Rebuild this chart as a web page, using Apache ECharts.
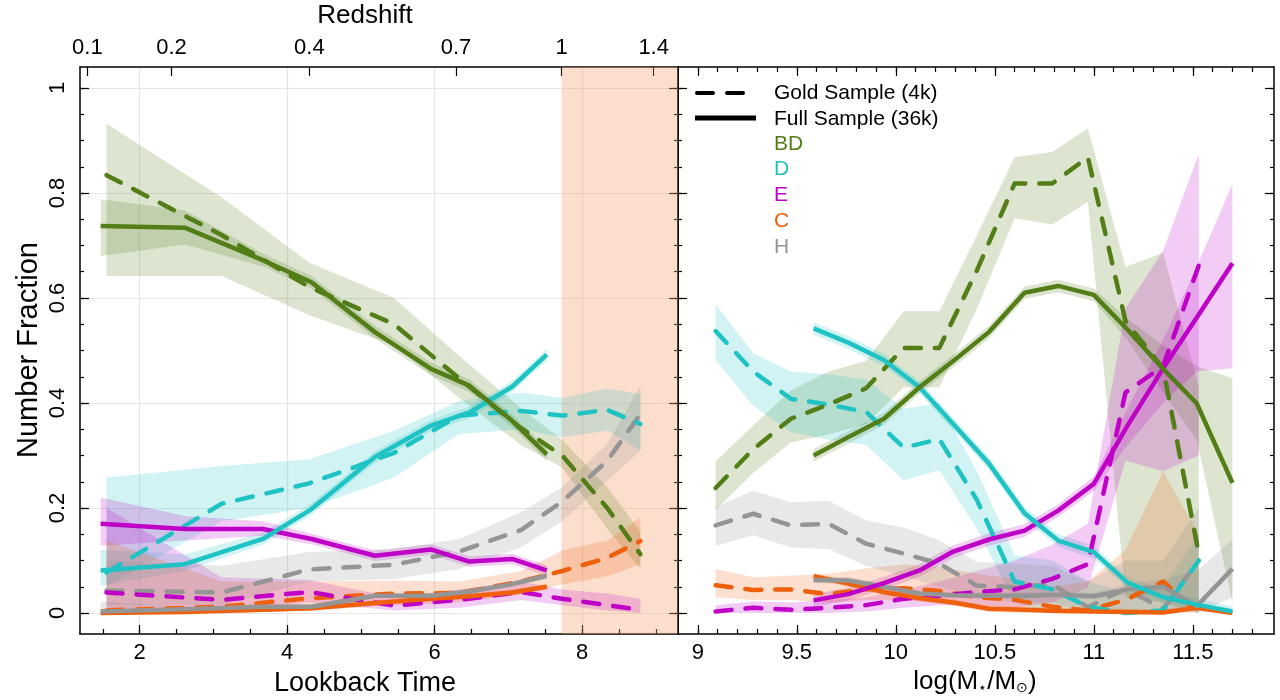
<!DOCTYPE html>
<html><head><meta charset="utf-8">
<script src="https://cdn.jsdelivr.net/npm/echarts@6/dist/echarts.min.js"></script>
<style>html,body{margin:0;padding:0;background:#fff}#c{width:1280px;height:700px}</style>
</head><body><div id="c"></div>
<script>
// ================= DATA =================
// Left panel: x = lookback time (Gyr)
const lbFull = [1.47, 2.61, 3.67, 4.33, 5.19, 5.95, 6.47, 7.05, 7.52];
const lbGold = [1.55, 3.11, 4.30, 5.45, 6.33, 7.17, 7.73, 8.34, 8.79];

const lfBD   = [0.737, 0.734, 0.672, 0.630, 0.535, 0.465, 0.433, 0.366, 0.302];
const lfBDlo = [0.680, 0.702, 0.660, 0.618, 0.523, 0.453, 0.421, 0.354, 0.290];
const lfBDhi = [0.788, 0.767, 0.685, 0.642, 0.547, 0.477, 0.445, 0.378, 0.314];
const lfD    = [0.081, 0.093, 0.141, 0.198, 0.297, 0.357, 0.382, 0.431, 0.492];
const lfDlo  = [0.052, 0.080, 0.130, 0.187, 0.286, 0.346, 0.371, 0.420, 0.481];
const lfDhi  = [0.120, 0.112, 0.153, 0.209, 0.308, 0.368, 0.393, 0.442, 0.503];
const lfE    = [0.170, 0.160, 0.160, 0.141, 0.109, 0.121, 0.098, 0.103, 0.081];
const lfElo  = [0.128, 0.138, 0.147, 0.131, 0.099, 0.111, 0.088, 0.093, 0.071];
const lfEhi  = [0.220, 0.185, 0.175, 0.151, 0.119, 0.131, 0.108, 0.113, 0.091];
const lfC    = [0.000, 0.002, 0.006, 0.009, 0.019, 0.027, 0.032, 0.039, 0.050];
const lfClo  = [0.000, 0.000, 0.002, 0.005, 0.014, 0.022, 0.027, 0.034, 0.044];
const lfChi  = [0.008, 0.008, 0.011, 0.014, 0.024, 0.032, 0.037, 0.045, 0.056];
const lfH    = [0.003, 0.007, 0.012, 0.012, 0.033, 0.033, 0.041, 0.055, 0.071];
const lfHlo  = [0.000, 0.003, 0.008, 0.008, 0.028, 0.028, 0.036, 0.050, 0.065];
const lfHhi  = [0.022, 0.012, 0.017, 0.017, 0.038, 0.038, 0.046, 0.060, 0.077];

const lgBD   = [0.834, 0.720, 0.621, 0.550, 0.447, 0.352, 0.300, 0.200, 0.112];
const lgBDlo = [0.642, 0.642, 0.567, 0.510, 0.410, 0.320, 0.277, 0.160, 0.084];
const lgBDhi = [0.932, 0.792, 0.667, 0.600, 0.490, 0.390, 0.330, 0.240, 0.155];
const lgD    = [0.077, 0.208, 0.247, 0.305, 0.376, 0.385, 0.376, 0.387, 0.360];
const lgDlo  = [0.050, 0.175, 0.200, 0.258, 0.341, 0.350, 0.335, 0.347, 0.310];
const lgDhi  = [0.258, 0.280, 0.293, 0.347, 0.404, 0.420, 0.410, 0.427, 0.417];
const lgE    = [0.039, 0.025, 0.040, 0.014, 0.025, 0.040, 0.027, 0.015, 0.006];
const lgElo  = [0.000, 0.005, 0.020, 0.005, 0.010, 0.025, 0.015, 0.005, 0.000];
const lgEhi  = [0.200, 0.068, 0.063, 0.030, 0.045, 0.060, 0.045, 0.037, 0.027];
const lgC    = [0.005, 0.012, 0.028, 0.037, 0.038, 0.060, 0.080, 0.105, 0.137];
const lgClo  = [0.000, 0.000, 0.005, 0.015, 0.020, 0.035, 0.055, 0.070, 0.093];
const lgChi  = [0.138, 0.060, 0.060, 0.062, 0.060, 0.080, 0.119, 0.138, 0.182];
const lgH    = [0.043, 0.039, 0.083, 0.092, 0.117, 0.158, 0.212, 0.290, 0.379];
const lgHlo  = [0.015, 0.015, 0.060, 0.065, 0.084, 0.125, 0.175, 0.252, 0.309];
const lgHhi  = [0.100, 0.090, 0.116, 0.122, 0.141, 0.192, 0.240, 0.322, 0.433];

// Right panel: x = log(M*/Msun)
const mFull = [9.585, 9.76, 9.94, 10.12, 10.29, 10.47, 10.65, 10.82, 11.00, 11.17, 11.35, 11.52, 11.70];
const mGold = [9.09, 9.28, 9.47, 9.66, 9.85, 10.04, 10.22, 10.41, 10.60, 10.79, 10.97, 11.16, 11.35, 11.53];

const rfBD   = [0.300, 0.335, 0.370, 0.430, 0.480, 0.535, 0.610, 0.623, 0.606, 0.540, 0.465, 0.399, 0.248];
const rfBDlo = [0.288, 0.323, 0.358, 0.418, 0.468, 0.523, 0.598, 0.611, 0.594, 0.520, 0.420, 0.330, 0.020];
const rfBDhi = [0.312, 0.347, 0.382, 0.442, 0.492, 0.547, 0.622, 0.635, 0.618, 0.560, 0.510, 0.470, 0.447];
const rfD    = [0.542, 0.515, 0.482, 0.430, 0.360, 0.285, 0.190, 0.138, 0.116, 0.058, 0.030, 0.016, 0.003];
const rfDlo  = [0.530, 0.503, 0.470, 0.418, 0.348, 0.273, 0.178, 0.126, 0.104, 0.046, 0.018, 0.004, 0.000];
const rfDhi  = [0.554, 0.527, 0.494, 0.442, 0.372, 0.297, 0.202, 0.150, 0.128, 0.070, 0.042, 0.028, 0.012];
const rfE    = [0.024, 0.036, 0.057, 0.081, 0.117, 0.140, 0.157, 0.195, 0.246, 0.357, 0.466, 0.563, 0.666];
const rfElo  = [0.012, 0.024, 0.045, 0.069, 0.105, 0.128, 0.145, 0.183, 0.232, 0.320, 0.400, 0.460, 0.466];
const rfEhi  = [0.036, 0.048, 0.069, 0.093, 0.129, 0.152, 0.169, 0.207, 0.260, 0.390, 0.520, 0.660, 0.817];
const rfC    = [0.070, 0.056, 0.040, 0.028, 0.020, 0.008, 0.006, 0.004, 0.003, 0.002, 0.001, 0.010, 0.000];
const rfClo  = [0.064, 0.050, 0.034, 0.022, 0.014, 0.002, 0.000, 0.000, 0.000, 0.000, 0.000, 0.004, 0.000];
const rfChi  = [0.076, 0.062, 0.046, 0.034, 0.026, 0.014, 0.012, 0.010, 0.009, 0.008, 0.007, 0.016, 0.006];
const rfH    = [0.063, 0.062, 0.050, 0.037, 0.034, 0.033, 0.033, 0.035, 0.032, 0.045, 0.050, 0.013, 0.084];
const rfHlo  = [0.057, 0.056, 0.044, 0.031, 0.028, 0.027, 0.027, 0.029, 0.026, 0.035, 0.035, 0.000, 0.030];
const rfHhi  = [0.069, 0.068, 0.056, 0.043, 0.040, 0.039, 0.039, 0.041, 0.038, 0.055, 0.065, 0.080, 0.140];

const rgBD   = [0.238, 0.312, 0.370, 0.397, 0.428, 0.505, 0.505, 0.653, 0.818, 0.818, 0.868, 0.556, 0.466, 0.113];
const rgBDlo = [0.196, 0.267, 0.325, 0.340, 0.360, 0.430, 0.430, 0.580, 0.752, 0.740, 0.783, 0.030, 0.020, 0.000];
const rgBDhi = [0.289, 0.357, 0.424, 0.460, 0.480, 0.575, 0.575, 0.720, 0.868, 0.878, 0.923, 0.659, 0.686, 0.430];
const rgD    = [0.537, 0.460, 0.408, 0.397, 0.383, 0.315, 0.331, 0.215, 0.060, 0.045, 0.012, 0.000, 0.005, 0.100];
const rgDlo  = [0.482, 0.395, 0.345, 0.330, 0.320, 0.253, 0.272, 0.160, 0.020, 0.000, 0.000, 0.000, 0.000, 0.020];
const rgDhi  = [0.588, 0.495, 0.460, 0.455, 0.445, 0.389, 0.400, 0.270, 0.110, 0.100, 0.060, 0.040, 0.050, 0.150];
const rgE    = [0.003, 0.010, 0.006, 0.010, 0.015, 0.027, 0.033, 0.040, 0.045, 0.065, 0.093, 0.420, 0.470, 0.662];
const rgElo  = [0.000, 0.000, 0.000, 0.000, 0.003, 0.010, 0.015, 0.015, 0.010, 0.020, 0.048, 0.290, 0.270, 0.300];
const rgEhi  = [0.015, 0.022, 0.020, 0.025, 0.030, 0.045, 0.060, 0.080, 0.100, 0.130, 0.170, 0.580, 0.690, 0.875];
const rgC    = [0.053, 0.044, 0.045, 0.036, 0.045, 0.047, 0.042, 0.030, 0.025, 0.012, 0.005, 0.025, 0.060, 0.000];
const rgClo  = [0.030, 0.025, 0.025, 0.020, 0.025, 0.025, 0.020, 0.010, 0.005, 0.000, 0.000, 0.000, 0.000, 0.000];
const rgChi  = [0.084, 0.068, 0.071, 0.075, 0.085, 0.093, 0.088, 0.075, 0.065, 0.050, 0.060, 0.120, 0.270, 0.150];
const rgH    = [0.167, 0.189, 0.167, 0.170, 0.132, 0.113, 0.094, 0.052, 0.049, 0.055, 0.011, 0.046, 0.008, 0.100];
const rgHlo  = [0.128, 0.148, 0.125, 0.122, 0.090, 0.070, 0.050, 0.030, 0.020, 0.020, 0.000, 0.005, 0.000, 0.020];
const rgHhi  = [0.202, 0.233, 0.211, 0.214, 0.176, 0.163, 0.138, 0.097, 0.094, 0.090, 0.060, 0.100, 0.100, 0.200];

// Tick labels
const lbTicks = [2, 4, 6, 8];
const lbMinorTicks = [1.5, 2, 2.5, 3, 3.5, 4, 4.5, 5, 5.5, 6, 6.5, 7, 7.5, 8, 8.5, 9];
const redshiftLabels = ['0.1', '0.2', '0.4', '0.7', '1', '1.4'];
const redshiftAtLookback = [1.29, 2.43, 4.30, 6.29, 7.72, 8.97];
const massTicks = [9, 9.5, 10, 10.5, 11, 11.5];
const massMinorTicks = [9.0,9.1,9.2,9.3,9.4,9.5,9.6,9.7,9.8,9.9,10.0,10.1,10.2,10.3,10.4,10.5,10.6,10.7,10.8,10.9,11.0,11.1,11.2,11.3,11.4,11.5,11.6,11.7,11.8];
const yTicks = [0, 0.2, 0.4, 0.6, 0.8, 1];
const yMinorTicks = [0,0.05,0.1,0.15,0.2,0.25,0.3,0.35,0.4,0.45,0.5,0.55,0.6,0.65,0.7,0.75,0.8,0.85,0.9,0.95,1];
const highZRange = [7.72, 9.30];

// ================= STYLE =================
const COL = {BD:'#537e17', D:'#1fc3c4', E:'#bf00c7', C:'#ee600c', H:'#959595'};
const BAND = {BD:'rgba(83,126,23,0.2)', D:'rgba(31,195,196,0.2)', E:'rgba(191,0,199,0.2)', C:'rgba(238,96,12,0.2)', H:'rgba(140,140,140,0.2)'};
const FONT = '"Liberation Sans Narrow","Liberation Sans",Arial,sans-serif';
const FONT2 = '"Liberation Sans",Arial,sans-serif';
const TICKFS = 22;

const chart = echarts.init(document.getElementById('c'), null, {renderer:'canvas'});

function tickAxis(base, opts) {
  return Object.assign({
    type:'value', scale:false,
    axisLine:{show:false, onZero:false, lineStyle:{color:'#000', width:1.5}},
    axisTick:{show:true, inside:true, length:4, lineStyle:{color:'#000', width:1.2}},
    axisLabel:{show:false},
    splitLine:{show:false}
  }, base, opts);
}

const L = {min:1.19, max:9.30};
const R = {min:8.90, max:11.91};
const Y = {min:-0.04, max:1.04};

const xAxes = [
  tickAxis({gridIndex:0, position:'bottom', min:L.min, max:L.max}, {
    axisLine:{show:true, onZero:false, lineStyle:{color:'#000', width:1.5}},
    axisTick:{show:true, inside:true, length:9, customValues:lbTicks, lineStyle:{color:'#000', width:1.2}},
    axisLabel:{show:true, customValues:lbTicks, margin:8, fontSize:TICKFS, fontFamily:FONT, color:'#000'},
    splitLine:{show:true, lineStyle:{color:'#e6e6e6', width:1.2}}
  }),
  tickAxis({gridIndex:0, position:'bottom', min:L.min, max:L.max}, {
    axisTick:{show:true, inside:true, length:5, customValues:lbMinorTicks, lineStyle:{color:'#000', width:1.2}}
  }),
  tickAxis({gridIndex:0, position:'top', min:L.min, max:L.max}, {
    axisLine:{show:true, onZero:false, lineStyle:{color:'#000', width:1.5}},
    axisTick:{show:true, inside:true, length:9, customValues:redshiftAtLookback, lineStyle:{color:'#000', width:1.2}},
    axisLabel:{show:true, customValues:redshiftAtLookback, margin:8, fontSize:TICKFS, fontFamily:FONT, color:'#000',
      formatter:function(v){ let b=0, d=1e9; redshiftAtLookback.forEach((t,i)=>{ if(Math.abs(t-v)<d){d=Math.abs(t-v);b=i;} }); return redshiftLabels[b]; }}
  }),
  tickAxis({gridIndex:1, position:'bottom', min:R.min, max:R.max}, {
    axisLine:{show:true, onZero:false, lineStyle:{color:'#000', width:1.5}},
    axisTick:{show:true, inside:true, length:9, customValues:massTicks, lineStyle:{color:'#000', width:1.2}},
    axisLabel:{show:true, customValues:massTicks, margin:8, fontSize:TICKFS, fontFamily:FONT, color:'#000'}
  }),
  tickAxis({gridIndex:1, position:'bottom', min:R.min, max:R.max}, {
    axisTick:{show:true, inside:true, length:5, customValues:massMinorTicks, lineStyle:{color:'#000', width:1.2}}
  }),
  tickAxis({gridIndex:1, position:'top', min:R.min, max:R.max}, {
    axisLine:{show:true, onZero:false, lineStyle:{color:'#000', width:1.5}},
    axisTick:{show:true, inside:true, length:9, customValues:massTicks, lineStyle:{color:'#000', width:1.2}}
  }),
  tickAxis({gridIndex:1, position:'top', min:R.min, max:R.max}, {
    axisTick:{show:true, inside:true, length:5, customValues:massMinorTicks, lineStyle:{color:'#000', width:1.2}}
  })
];

const yAxes = [
  tickAxis({gridIndex:0, position:'left', min:Y.min, max:Y.max}, {
    axisLine:{show:true, onZero:false, lineStyle:{color:'#000', width:1.5}},
    axisTick:{show:true, inside:true, length:9, customValues:yTicks, lineStyle:{color:'#000', width:1.2}},
    axisLabel:{show:true, customValues:yTicks, rotate:90, margin:11, fontSize:TICKFS, fontFamily:FONT, color:'#000'},
    splitLine:{show:true, lineStyle:{color:'#e6e6e6', width:1.2}}
  }),
  tickAxis({gridIndex:0, position:'left', min:Y.min, max:Y.max}, {
    axisTick:{show:true, inside:true, length:4, customValues:yMinorTicks, lineStyle:{color:'#000', width:1.2}}
  }),
  tickAxis({gridIndex:0, position:'right', min:Y.min, max:Y.max}, {
    axisLine:{show:true, onZero:false, lineStyle:{color:'#000', width:1.5}},
    axisTick:{show:true, inside:true, length:9, customValues:yTicks, lineStyle:{color:'#000', width:1.2}}
  }),
  tickAxis({gridIndex:0, position:'right', min:Y.min, max:Y.max}, {
    axisTick:{show:true, inside:true, length:4, customValues:yMinorTicks, lineStyle:{color:'#000', width:1.2}}
  }),
  tickAxis({gridIndex:1, position:'left', min:Y.min, max:Y.max}, {
    axisLine:{show:true, onZero:false, lineStyle:{color:'#000', width:1.5}},
    axisTick:{show:true, inside:true, length:9, customValues:yTicks, lineStyle:{color:'#000', width:1.2}}
  }),
  tickAxis({gridIndex:1, position:'left', min:Y.min, max:Y.max}, {
    axisTick:{show:true, inside:true, length:4, customValues:yMinorTicks, lineStyle:{color:'#000', width:1.2}}
  }),
  tickAxis({gridIndex:1, position:'right', min:Y.min, max:Y.max}, {
    axisLine:{show:true, onZero:false, lineStyle:{color:'#000', width:1.5}},
    axisTick:{show:true, inside:true, length:9, customValues:yTicks, lineStyle:{color:'#000', width:1.2}}
  }),
  tickAxis({gridIndex:1, position:'right', min:Y.min, max:Y.max}, {
    axisTick:{show:true, inside:true, length:4, customValues:yMinorTicks, lineStyle:{color:'#000', width:1.2}}
  })
];

function band(xIdx, yIdx, xs, lo, hi, fill) {
  return {
    type:'custom', xAxisIndex:xIdx, yAxisIndex:yIdx, z:2, silent:true, clip:true,
    data: xs.map((x,i)=>[x, lo[i], hi[i]]),
    encode:{x:0, y:[1,2]},
    renderItem:function(params, api){
      if (params.dataIndex !== 0) return null;
      const pts = [];
      for (let i=0;i<xs.length;i++) pts.push(api.coord([xs[i], hi[i]]));
      for (let i=xs.length-1;i>=0;i--) pts.push(api.coord([xs[i], lo[i]]));
      return {type:'polygon', shape:{points:pts}, style:{fill:fill, stroke:null}};
    }
  };
}
function line(xIdx, yIdx, xs, ys, color, dashed) {
  return {
    type:'line', xAxisIndex:xIdx, yAxisIndex:yIdx, silent:true, symbol:'none', showSymbol:false,
    z: dashed ? 4 : 5, clip:true,
    data: xs.map((x,i)=>[x, ys[i]]),
    lineStyle:{color:color, width:4.5, type: dashed ? [16,14] : 'solid', cap: dashed ? 'round' : 'butt', join:'round'}
  };
}

const series = [
  { type:'line', xAxisIndex:0, yAxisIndex:0, data:[], silent:true, z:1,
    markArea:{silent:true, itemStyle:{color:'rgba(247,160,110,0.35)'}, data:[[{xAxis:highZRange[0]},{xAxis:highZRange[1]}]]} },
  band(0,0,lbGold,lgBDlo,lgBDhi,BAND.BD), band(0,0,lbFull,lfBDlo,lfBDhi,BAND.BD),
  band(0,0,lbGold,lgDlo,lgDhi,BAND.D),   band(0,0,lbFull,lfDlo,lfDhi,BAND.D),
  band(0,0,lbGold,lgElo,lgEhi,BAND.E),   band(0,0,lbFull,lfElo,lfEhi,BAND.E),
  band(0,0,lbGold,lgClo,lgChi,BAND.C),   band(0,0,lbFull,lfClo,lfChi,BAND.C),
  band(0,0,lbGold,lgHlo,lgHhi,BAND.H),   band(0,0,lbFull,lfHlo,lfHhi,BAND.H),
  band(3,4,mGold,rgBDlo,rgBDhi,BAND.BD), band(3,4,mFull,rfBDlo,rfBDhi,BAND.BD),
  band(3,4,mGold,rgDlo,rgDhi,BAND.D),    band(3,4,mFull,rfDlo,rfDhi,BAND.D),
  band(3,4,mGold,rgElo,rgEhi,BAND.E),    band(3,4,mFull,rfElo,rfEhi,BAND.E),
  band(3,4,mGold,rgClo,rgChi,BAND.C),    band(3,4,mFull,rfClo,rfChi,BAND.C),
  band(3,4,mGold,rgHlo,rgHhi,BAND.H),    band(3,4,mFull,rfHlo,rfHhi,BAND.H),
  line(0,0,lbGold,lgH,COL.H,true), line(0,0,lbGold,lgC,COL.C,true), line(0,0,lbGold,lgE,COL.E,true),
  line(0,0,lbGold,lgD,COL.D,true), line(0,0,lbGold,lgBD,COL.BD,true),
  line(0,0,lbFull,lfC,COL.C,false), line(0,0,lbFull,lfH,COL.H,false), line(0,0,lbFull,lfE,COL.E,false),
  line(0,0,lbFull,lfD,COL.D,false), line(0,0,lbFull,lfBD,COL.BD,false),
  line(3,4,mGold,rgH,COL.H,true), line(3,4,mGold,rgC,COL.C,true), line(3,4,mGold,rgE,COL.E,true),
  line(3,4,mGold,rgD,COL.D,true), line(3,4,mGold,rgBD,COL.BD,true),
  line(3,4,mFull,rfC,COL.C,false), line(3,4,mFull,rfH,COL.H,false), line(3,4,mFull,rfE,COL.E,false),
  line(3,4,mFull,rfD,COL.D,false), line(3,4,mFull,rfBD,COL.BD,false)
];

const legendItems = [['BD',COL.BD],['D',COL.D],['E',COL.E],['C',COL.C],['H',COL.H]];
const graphics = [
  {type:'text', x:365, y:16, style:{text:'Redshift', font:'26px '+FONT2, fill:'#000', textAlign:'center', textVerticalAlign:'middle'}},
  {type:'text', x:365, y:684, style:{text:'Lookback Time', font:'27px '+FONT2, fill:'#000', textAlign:'center', textVerticalAlign:'middle'}},
  {type:'text', x:975, y:682, style:{text:'log(M{s|⋆}/M{s|⊙})', font:'26px '+FONT2, fill:'#000', textAlign:'center', textVerticalAlign:'middle',
     rich:{s:{fontSize:14, fontFamily:FONT2, fill:'#000', verticalAlign:'bottom', padding:[12,0,0,0]}}}},
  {type:'text', x:29, y:350, rotation:Math.PI/2, style:{text:'Number Fraction', font:'29px '+FONT2, fill:'#000', textAlign:'center', textVerticalAlign:'middle'}},
  {type:'line', shape:{x1:697,y1:93,x2:743,y2:93}, style:{stroke:'#000', lineWidth:4, lineDash:[16,14], lineCap:'round'}},
  {type:'line', shape:{x1:695,y1:118,x2:756,y2:118}, style:{stroke:'#000', lineWidth:5}},
  {type:'text', x:774, y:93, style:{text:'Gold Sample (4k)', font:'21px '+FONT2, fill:'#000', textVerticalAlign:'middle'}},
  {type:'text', x:774, y:119, style:{text:'Full Sample (36k)', font:'21px '+FONT2, fill:'#000', textVerticalAlign:'middle'}}
];
legendItems.forEach((it,i)=>{
  graphics.push({type:'text', x:774, y:144 + i*25.7, style:{text:it[0], font:'21px '+FONT2, fill:it[1], textVerticalAlign:'middle'}});
});

chart.setOption({
  animation:false,
  backgroundColor:'#fff',
  grid:[
    {left:80, top:67, width:598, height:567, show:false},
    {left:678, top:67, width:596, height:567, show:false}
  ],
  xAxis:xAxes,
  yAxis:yAxes,
  series:series,
  graphic:graphics
});
</script>
</body></html>
